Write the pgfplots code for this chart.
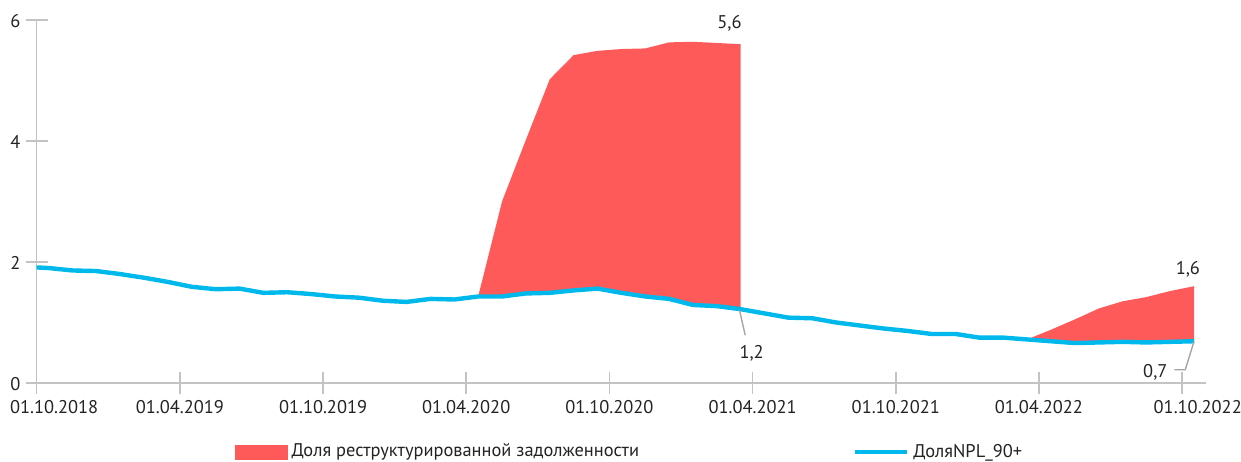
\documentclass[border=0pt]{standalone}
\usepackage{fontspec}
\setmainfont{PT Sans}
\usepackage{pgfplots}
\pgfplotsset{compat=1.18}
\usepackage{pgfplotstable}
\usepgfplotslibrary{fillbetween}

\definecolor{resred}{RGB}{255,90,90}
\definecolor{nplblue}{RGB}{0,185,236}
\definecolor{axisgrey}{RGB}{195,195,195}
\definecolor{leadgrey}{RGB}{165,165,165}
\definecolor{txt}{RGB}{35,35,35}
\newcommand\chartfont{\fontsize{9.2pt}{11pt}\selectfont}

% month index: 0 = 01.10.2018
\pgfplotstableread{
x    y
0    1.91
0.5  1.90
1.5  1.86
2.5  1.85
3.5  1.80
4.5  1.74
5.5  1.67
6.5  1.59
7.5  1.55
8.5  1.56
9.5  1.49
10.5 1.50
11.5 1.47
12.5 1.43
13.5 1.41
14.5 1.36
15.5 1.34
16.5 1.39
17.5 1.38
18.5 1.43
19.5 1.43
20.5 1.48
21.5 1.49
22.5 1.53
23.5 1.56
24.5 1.49
25.5 1.43
26.5 1.39
27.5 1.29
28.5 1.27
29.5 1.22
30.5 1.15
31.5 1.08
32.5 1.07
33.5 1.00
34.5 0.95
35.5 0.90
36.5 0.86
37.5 0.81
38.5 0.81
39.5 0.75
40.5 0.75
41.5 0.72
42.5 0.69
43.5 0.66
44.5 0.67
45.5 0.68
46.5 0.67
47.5 0.68
48.5 0.69
}\npl

\pgfplotstableread{
x    y
18.5 1.43
19.5 3.00
20.5 4.02
21.5 5.02
22.5 5.42
23.5 5.49
24.5 5.52
25.5 5.53
26.5 5.63
27.5 5.64
28.5 5.62
29.5 5.60
}\resA

\pgfplotstableread{
x    y
41.5 0.72
42.5 0.88
43.5 1.05
44.5 1.23
45.5 1.35
46.5 1.42
47.5 1.52
48.5 1.60
}\resB

\begin{document}
\begin{tikzpicture}
\begin{axis}[
    name=ax,
    scale only axis,
    width=584.65pt, height=181.5pt,
    xmin=0, xmax=49,
    ymin=0, ymax=6,
    axis lines*=left,
    axis line style={axisgrey, line width=0.75pt},
    tick align=center,
    major tick length=11pt,
    tick style={axisgrey, line width=0.75pt},
    xtick={0,6,...,48},
    xticklabels={\hspace*{17.4pt}01.10.2018,01.04.2019,01.10.2019,01.04.2020,01.10.2020,01.04.2021,01.10.2021,01.04.2022,\hspace*{15.6pt}01.10.2022},
    ytick={0,2,4,6},
    yticklabels={0,2,4,6},
    xticklabel style={font=\chartfont, text=txt, anchor=base, inner sep=0pt, yshift=-9.7pt},
    yticklabel style={font=\chartfont, text=txt, anchor=base east, inner sep=0pt, xshift=-2.5pt, yshift=-4pt},
    clip=false,
    legend columns=2,
    legend style={at={(0.5078,-0.19)}, anchor=center, draw=none, fill=none,
        font=\chartfont, text=txt,
        /tikz/every even column/.append style={column sep=105pt}},
    legend cell align=left,
]

\addplot[name path=npl, nplblue, line width=2.2pt, line join=round, forget plot] table[x=x, y=y] {\npl};
\addplot[name path=rA, draw=none, forget plot] table[x=x, y=y] {\resA};
\addplot[name path=rB, draw=none, forget plot] table[x=x, y=y] {\resB};
\addplot[resred, draw=none, forget plot] fill between[of=rA and npl, soft clip={domain=18.5:29.5}];
\addplot[resred, draw=none, forget plot] fill between[of=rB and npl, soft clip={domain=41.5:48.5}];

\addlegendimage{legend image code/.code={\fill[resred] (0pt,-3.5pt) rectangle (26pt,3.5pt);}}
\addlegendentry{Доля реструктурированной задолженности}
\addlegendimage{legend image code/.code={\draw[nplblue, line width=2.2pt] (0pt,0pt) -- (26pt,0pt);}}
\addlegendentry{ДоляNPL\_90+}

% value labels
\draw[leadgrey, line width=0.7pt] (29.45,1.207) -- (29.69,0.79);
\draw[leadgrey, line width=0.7pt] (48.5,0.69) -- (48.13,0.218) -- (47.67,0.218);
\node[font=\chartfont, text=txt, anchor=base, inner sep=0pt] at (29.03,5.863) {5,6};
\node[font=\chartfont, text=txt, anchor=base, inner sep=0pt] at (29.96,0.397) {1,2};
\node[font=\chartfont, text=txt, anchor=base, inner sep=0pt] at (48.24,1.79) {1,6};
\node[font=\chartfont, text=txt, anchor=base east, inner sep=0pt] at (47.40,0.093) {0,7};
\end{axis}
\pgfresetboundingbox
\path ([shift={(-18.35pt,-39.5pt)}]ax.south west) rectangle ([shift={(17.5pt,10pt)}]ax.north east);
\end{tikzpicture}
\end{document}
